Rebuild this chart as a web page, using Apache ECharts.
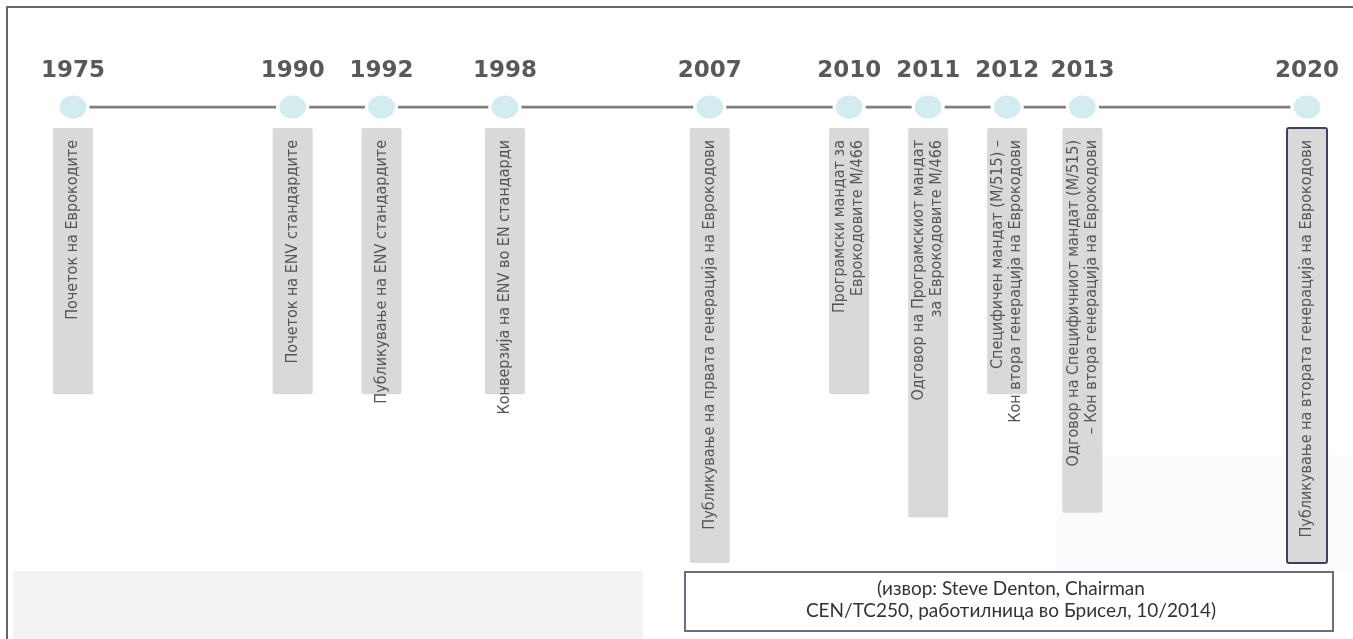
<!DOCTYPE html>
<html>
<head>
<meta charset="utf-8">
<style>
  html, body { margin: 0; padding: 0; background: #fff; }
  #chart { width: 1353px; height: 639px; }
</style>
<script src="https://cdn.jsdelivr.net/npm/echarts@6/dist/echarts.min.js"></script>
</head>
<body>
<div id="chart"></div>
<script>
// години на временската линија
const years = ["1975", "1990", "1992", "1998", "2007", "2010", "2011", "2012", "2013", "2020"];
// позиција на секој настан по линијата (0-100), прочитано од сликата
const positions = [0, 17.8, 25, 35, 51.6, 62.9, 69.3, 75.7, 81.8, 100];
// должина на сивата лента под линијата (0-100)
const barLengths = [63, 63, 63, 63, 100, 63, 90, 63, 89, 100];
// опис на настанот (текст во лентата)
const events = [
  "Почеток на Еврокодите",
  "Почеток на ENV стандардите",
  "Публикување на ENV стандардите",
  "Конверзија на ENV во EN стандарди",
  "Публикување на првата генерација на Еврокодови",
  "Програмски мандат за\nЕврокодовите М/466",
  "Одговор на Програмскиот мандат\nза Еврокодовите М/466",
  "Специфичен мандат (M/515) –\nКон втора генерација на Еврокодови",
  "Одговор на Специфичниот мандат (M/515)\n– Кон втора генерација на Еврокодови",
  "Публикување на втората генерација на Еврокодови",
];
// само последната лента е врамена
const highlighted = [false, false, false, false, false, false, false, false, false, true];
const sourceLines = ["(извор: Steve Denton, Chairman", "CEN/TC250, работилница во Брисел, 10/2014)"];

const barStart = 4.6;

const myChart = echarts.init(document.querySelector("#chart"));
const option = {
  backgroundColor: "#fff",
  animation: false,
  grid: { left: 73, right: 46, top: 107, bottom: 76 },
  xAxis: { type: "value", min: 0, max: 100, show: false },
  yAxis: { type: "value", min: 0, max: 100, inverse: true, show: false },
  graphic: [
    // бледи позадински полиња
    { type: "rect", z: 0, shape: { x: 13, y: 571, width: 630, height: 68 }, style: { fill: "#f3f3f3" } },
    { type: "rect", z: 0, shape: { x: 1057, y: 455, width: 296, height: 116 }, style: { fill: "#fbfbfb" } },
    // рамка горе и лево
    { type: "polyline", z: 10, shape: { points: [[7, 639], [7, 7], [1353, 7]] }, style: { stroke: "#666", lineWidth: 2, fill: null } },
    // извор
    {
      type: "rect", z: 10,
      shape: { x: 685, y: 572, width: 648, height: 59 },
      style: { fill: "#fff", stroke: "#6b6b85", lineWidth: 2 },
    },
    {
      type: "text", z: 11, x: 1011, y: 600,
      style: {
        text: sourceLines.join("\n"),
        align: "center", verticalAlign: "middle",
        fill: "#333", fontSize: 19, lineHeight: 22,
        fontFamily: "Lato, 'Open Sans', sans-serif",
      },
    },
  ],
  series: [
    {
      // временска линија со кругови и години
      type: "line",
      z: 3,
      data: positions.map((p) => [p, 0]),
      lineStyle: { color: "#7f7f7f", width: 3 },
      symbol: "circle",
      symbolSize: [30, 26],
      itemStyle: { color: "#d3ecf0", borderColor: "#fff", borderWidth: 3 },
      label: {
        show: true,
        position: "top",
        distance: 10,
        formatter: (p) => years[p.dataIndex],
        color: "#595959",
        fontSize: 23,
        fontWeight: "bold",
        fontFamily: "'DejaVu Sans', sans-serif",
      },
    },
    {
      // сиви ленти со вертикален текст
      type: "custom",
      z: 2,
      clip: false,
      encode: { x: 0, y: 1 },
      data: positions.map((p, i) => [p, barLengths[i]]),
      renderItem: (params, api) => {
        const i = params.dataIndex;
        const top = api.coord([api.value(0), barStart]);
        const bottom = api.coord([api.value(0), api.value(1)]);
        const w = 40;
        return {
          type: "group",
          children: [
            {
              type: "rect",
              shape: { x: top[0] - w / 2, y: top[1], width: w, height: bottom[1] - top[1], r: 2 },
              style: {
                fill: "#d9d9d9",
                stroke: highlighted[i] ? "#3f3f63" : null,
                lineWidth: highlighted[i] ? 2 : 0,
              },
            },
            {
              type: "text",
              x: top[0],
              y: top[1] + 12,
              rotation: Math.PI / 2,
              style: {
                text: events[i],
                align: "right",
                verticalAlign: "middle",
                fill: "#555",
                fontSize: 16,
                lineHeight: 18,
                fontFamily: "'Liberation Sans Narrow', 'DejaVu Sans Condensed', sans-serif",
              },
            },
          ],
        };
      },
    },
  ],
};
myChart.setOption(option);
</script>
</body>
</html>
